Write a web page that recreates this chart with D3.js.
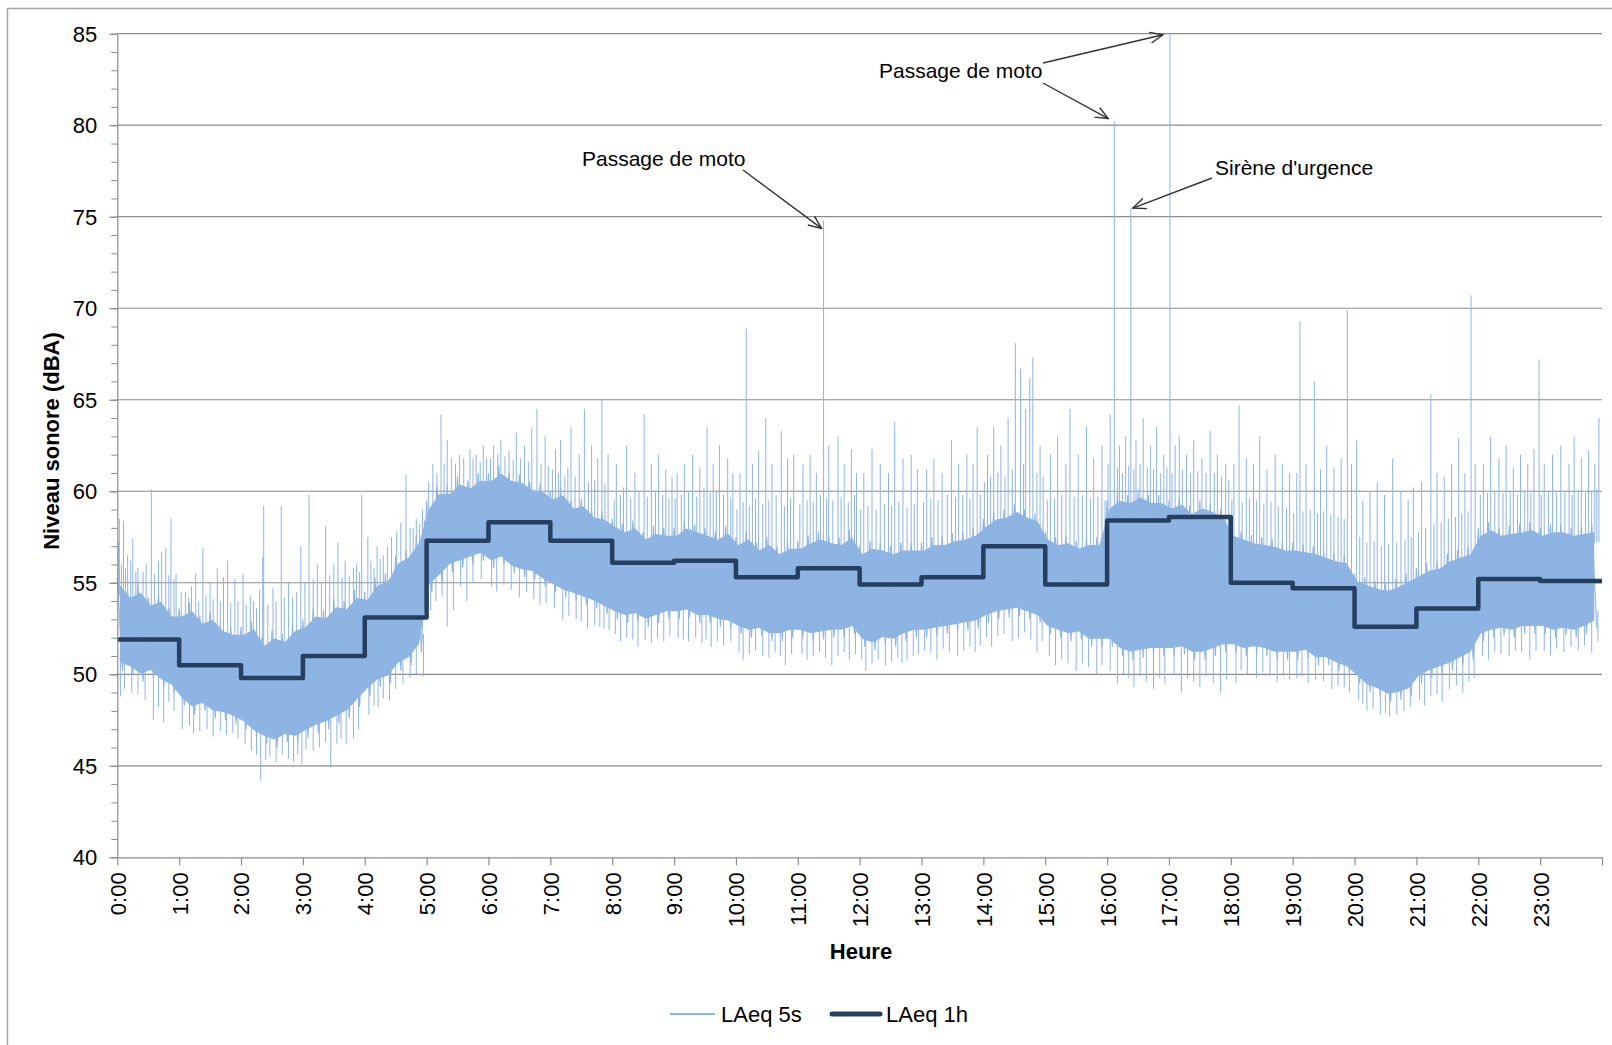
<!DOCTYPE html>
<html>
<head>
<meta charset="utf-8">
<script src="https://cdn.jsdelivr.net/npm/d3@7"></script>
<style>
  body { margin: 0; background: #fff; }
  text { font-family: "Liberation Sans", Arial, sans-serif; }
</style>
</head>
<body>
<svg id="drawing_region"></svg>
<script>
// hour labels on the x axis
const hourLabels = ["0:00","1:00","2:00","3:00","4:00","5:00","6:00","7:00","8:00","9:00","10:00","11:00",
  "12:00","13:00","14:00","15:00","16:00","17:00","18:00","19:00","20:00","21:00","22:00","23:00"];
const yTickValues = [40, 45, 50, 55, 60, 65, 70, 75, 80, 85];

// LAeq 1h, one value per hour
const laeq1h = [51.9, 50.5, 49.8, 51.0, 53.1, 57.3, 58.3, 57.3, 56.1, 56.2, 55.3, 55.8,
  54.9, 55.3, 57.0, 54.9, 58.4, 58.6, 55.0, 54.7, 52.6, 53.6, 55.2, 55.1];

// LAeq 5s : dense band, low / high per 10 minute slot (6 slots per hour)
const bandLow = [
  [50.2, 50.0, 49.6, 49.8, 49.3, 49.0],
  [48.3, 47.8, 48.0, 47.6, 47.5, 47.3],
  [47.0, 46.5, 46.2, 46.0, 46.3, 46.2],
  [46.5, 46.8, 47.0, 47.3, 47.6, 48.2],
  [48.8, 49.3, 49.5, 50.2, 50.5, 51.2],
  [54.5, 55.0, 55.6, 55.8, 56.0, 56.2],
  [55.8, 56.0, 55.5, 55.3, 55.2, 54.8],
  [54.5, 54.2, 54.0, 53.8, 53.6, 53.3],
  [53.0, 52.8, 52.9, 52.6, 52.8, 53.0],
  [53.0, 53.1, 52.8, 52.8, 52.6, 52.5],
  [52.2, 52.0, 52.1, 51.8, 51.8, 52.0],
  [52.0, 51.8, 51.9, 52.0, 52.0, 52.2],
  [51.5, 51.3, 51.6, 51.5, 51.8, 52.0],
  [52.0, 52.1, 52.2, 52.3, 52.4, 52.5],
  [52.8, 53.0, 53.1, 53.2, 53.0, 52.8],
  [52.2, 52.0, 51.8, 51.9, 51.5, 51.5],
  [51.5, 51.0, 50.8, 50.9, 51.0, 51.0],
  [51.0, 51.1, 50.8, 50.8, 51.0, 51.2],
  [51.2, 51.0, 51.1, 51.0, 50.8, 50.8],
  [50.8, 50.9, 50.5, 50.5, 50.2, 50.0],
  [49.5, 49.0, 48.8, 48.5, 48.6, 48.8],
  [49.5, 49.8, 50.0, 50.2, 50.5, 50.8],
  [51.8, 52.0, 52.1, 52.0, 52.2, 52.2],
  [52.2, 52.0, 52.1, 52.0, 52.2, 52.5]
];
const bandHigh = [
  [55.3, 54.6, 54.9, 54.2, 54.4, 53.6],
  [53.6, 53.9, 53.2, 53.4, 52.8, 52.6],
  [52.6, 52.9, 52.0, 52.4, 52.2, 52.8],
  [53.0, 53.6, 53.5, 54.1, 54.0, 54.6],
  [54.5, 55.3, 55.5, 56.5, 56.8, 57.6],
  [59.5, 60.3, 60.3, 60.8, 60.6, 61.0],
  [61.0, 61.4, 61.0, 60.9, 60.5, 60.4],
  [60.0, 60.2, 59.5, 59.6, 59.0, 58.9],
  [58.5, 58.2, 58.4, 57.8, 58.1, 58.0],
  [58.0, 58.4, 58.2, 58.0, 57.8, 58.1],
  [57.5, 57.8, 57.2, 57.5, 57.0, 57.3],
  [57.3, 57.6, 57.8, 57.6, 57.5, 57.9],
  [57.0, 57.3, 57.2, 57.0, 57.2, 57.2],
  [57.2, 57.5, 57.5, 57.7, 57.8, 58.0],
  [58.5, 58.9, 59.0, 59.3, 59.0, 58.8],
  [57.8, 57.5, 57.6, 57.3, 57.5, 57.5],
  [59.5, 59.9, 59.8, 60.1, 59.8, 59.8],
  [59.5, 59.7, 59.2, 59.5, 59.3, 59.0],
  [58.0, 57.8, 57.6, 57.5, 57.4, 57.2],
  [57.2, 57.1, 57.0, 56.8, 56.6, 56.5],
  [55.5, 55.3, 55.1, 55.0, 55.2, 55.5],
  [55.8, 56.1, 56.2, 56.6, 56.8, 57.0],
  [58.0, 58.3, 58.0, 58.1, 58.2, 58.3],
  [58.0, 58.2, 58.2, 58.0, 58.1, 58.2]
];

// LAeq 5s : isolated peaks above the band, per hour [minute, dB]
const peaks = [
  [[1,57.2],[2,58.5],[4,56.0],[6,58.4],[8,55.8],[10,56.5],[13,56.2],[15,57.4],[18,55.6],[20,55.8],[25,55.6],[28,56.0],[33,60.1],[36,55.5],[40,56.2],[43,56.7],[47,56.9],[50,55.4],[52,58.5],[55,55.2],[57,55.5]],
  [[2,54.5],[6,54.5],[9,54.2],[12,54.8],[16,55.5],[19,54.0],[23,56.9],[26,54.3],[30,55.0],[33,54.1],[37,55.8],[40,54.0],[43,55.3],[47,56.2],[50,53.9],[54,55.2],[57,54.0]],
  [[2,55.5],[5,53.8],[9,54.3],[12,54.0],[15,53.6],[18,54.6],[21,56.4],[22,59.2],[26,53.8],[31,54.7],[34,54.0],[39,59.2],[42,54.2],[46,55.0],[50,54.2],[54,54.5],[58,57.0]],
  [[2,55.0],[6,59.8],[10,55.2],[14,56.0],[18,55.0],[22,58.1],[26,55.4],[30,56.0],[34,57.2],[38,55.3],[41,56.2],[45,55.4],[49,55.8],[52,56.0],[55,55.6],[57,59.8]],
  [[3,57.5],[6,56.2],[9,55.8],[12,57.0],[15,56.3],[18,56.5],[22,57.0],[26,57.5],[31,57.8],[35,58.3],[40,60.9],[44,58.0],[47,58.0],[50,58.5],[53,58.2],[56,59.0],[58,58.4]],
  [[2,60.5],[6,61.5],[10,61.0],[14,64.2],[17,61.5],[20,62.8],[24,61.8],[28,61.5],[32,62.0],[36,61.8],[42,62.3],[45,61.8],[48,62.0],[52,61.6],[55,62.5],[58,61.8]],
  [[2,61.8],[5,62.5],[9,62.0],[12,62.8],[16,61.9],[20,62.2],[24,61.7],[27,63.2],[31,61.8],[35,62.5],[39,61.6],[42,63.5],[47,64.5],[51,61.5],[55,63.0],[58,61.4]],
  [[2,61.2],[5,62.3],[8,61.0],[10,62.8],[14,60.8],[17,61.3],[20,63.5],[24,60.8],[28,62.0],[33,64.5],[37,60.5],[40,62.5],[43,60.6],[46,61.8],[50,65.0],[53,60.4],[56,62.0]],
  [[2,59.5],[4,61.5],[8,59.8],[11,60.2],[14,62.5],[18,59.6],[22,61.0],[26,60.0],[31,64.2],[34,59.7],[38,61.5],[42,60.0],[45,62.0],[49,59.8],[52,61.2],[55,59.6],[58,60.8]],
  [[1,59.6],[3,61.0],[7,59.8],[10,61.5],[14,60.0],[18,62.0],[22,59.7],[25,61.3],[29,60.2],[32,63.5],[35,59.9],[38,61.5],[41,60.0],[44,62.5],[48,59.8],[52,61.8],[55,59.6],[57,61.0]],
  [[1,59.0],[4,61.0],[7,59.4],[10,68.9],[13,59.2],[16,61.5],[19,59.6],[22,62.2],[26,59.3],[29,64.0],[32,59.5],[35,61.5],[39,59.8],[44,63.3],[47,59.2],[50,61.8],[53,59.6],[56,62.0]],
  [[2,59.3],[5,61.5],[9,59.5],[12,62.0],[15,59.4],[18,61.0],[22,59.8],[25,74.8],[28,59.6],[30,62.5],[34,59.5],[39,63.0],[42,59.7],[45,61.5],[49,59.4],[52,62.3],[55,59.8],[57,61.0]],
  [[1,59.0],[4,61.0],[8,59.2],[12,62.3],[16,59.0],[20,61.5],[24,59.3],[28,61.0],[31,59.2],[34,63.8],[38,59.4],[42,61.8],[46,59.1],[50,62.0],[53,59.3],[56,61.2]],
  [[2,59.4],[5,61.2],[9,59.6],[12,61.8],[16,59.5],[20,61.0],[25,59.8],[29,62.8],[33,59.7],[36,61.5],[40,59.8],[44,62.0],[47,59.6],[50,61.5],[54,63.5],[57,59.8]],
  [[1,60.5],[4,62.0],[7,60.8],[10,63.5],[14,61.0],[17,62.5],[21,60.8],[24,64.0],[28,61.2],[31,68.1],[36,66.7],[39,61.5],[41,64.5],[45,66.2],[48,67.3],[52,61.0],[55,62.5],[58,60.8]],
  [[2,59.5],[5,62.0],[9,59.6],[12,63.0],[16,59.8],[20,61.5],[24,64.5],[28,59.7],[32,62.0],[36,59.8],[40,63.5],[44,59.6],[47,61.8],[51,59.7],[55,62.5],[58,59.5]],
  [[1,61.5],[3,64.2],[7,80.2],[10,61.3],[12,62.5],[15,61.0],[18,63.0],[21,61.4],[23,75.5],[26,61.2],[28,62.8],[32,61.5],[35,64.0],[39,61.3],[42,62.5],[45,61.2],[48,63.5],[52,61.0],[55,62.0],[58,61.3]],
  [[1,85.0],[3,61.0],[6,62.5],[10,63.0],[13,61.2],[17,62.0],[21,61.0],[24,62.8],[28,61.1],[32,61.8],[36,61.0],[40,63.3],[44,61.0],[47,62.0],[51,60.8],[55,61.5],[58,60.6]],
  [[1,59.5],[3,61.5],[8,64.7],[11,59.4],[15,61.8],[18,59.6],[22,61.5],[25,59.5],[28,63.0],[32,59.3],[35,61.2],[39,59.4],[43,62.0],[46,59.2],[50,61.5],[54,59.1],[57,61.0]],
  [[1,58.8],[4,61.0],[7,69.3],[10,58.9],[13,61.5],[17,59.0],[21,66.0],[24,58.8],[27,61.2],[30,58.9],[33,62.5],[37,58.7],[40,61.3],[44,58.6],[47,61.8],[50,58.5],[53,69.9],[57,61.5]],
  [[2,62.8],[5,57.5],[8,59.5],[12,57.2],[15,60.0],[19,57.3],[22,60.5],[26,57.0],[29,59.8],[33,57.1],[37,61.8],[41,57.2],[45,60.0],[49,57.3],[52,59.5],[55,57.5],[57,60.2]],
  [[2,57.8],[5,60.5],[9,58.0],[14,65.3],[17,58.2],[20,61.0],[24,58.3],[27,60.8],[31,58.5],[34,61.5],[38,58.6],[41,62.9],[44,58.8],[47,61.0],[50,58.9],[53,70.7],[57,61.5]],
  [[2,59.8],[5,61.5],[9,59.9],[12,63.0],[16,60.0],[20,61.8],[24,59.9],[27,62.5],[31,60.0],[34,61.3],[38,59.8],[41,62.0],[45,60.0],[48,61.5],[51,59.9],[54,62.3],[59,67.2]],
  [[1,59.8],[4,61.5],[8,60.0],[12,62.0],[16,59.9],[20,62.5],[24,60.0],[28,61.5],[31,59.8],[33,63.0],[37,60.0],[40,61.8],[44,59.9],[47,62.2],[50,60.0],[53,61.5],[55,60.1],[57,64.0]]
];

// LAeq 5s : isolated dips below the band, per hour [minute, dB]
const dips = [
  [[3,48.8],[7,49.2],[14,49.0],[20,48.9],[27,48.6],[35,47.5],[40,48.2],[45,47.4],[50,48.5],[55,48.0]],
  [[3,47.0],[10,47.2],[14,46.8],[20,46.9],[27,47.0],[33,46.6],[40,46.9],[46,46.7],[52,46.8],[57,46.5]],
  [[4,46.2],[10,45.8],[15,45.6],[19,44.2],[24,45.3],[28,45.5],[34,45.2],[40,45.6],[46,45.4],[51,45.2],[55,45.6],[59,45.1]],
  [[3,45.9],[10,45.8],[16,46.0],[22,46.3],[27,44.9],[33,46.2],[37,46.5],[42,46.2],[49,46.5],[54,47.0]],
  [[4,47.8],[9,48.3],[13,48.2],[18,48.7],[24,48.6],[30,49.2],[37,49.5],[44,49.8],[50,50.0],[57,49.9]],
  [[4,53.5],[9,54.0],[15,54.3],[20,52.6],[26,53.5],[33,54.8],[39,54.0],[45,55.0],[53,55.2]],
  [[3,54.8],[8,54.5],[15,54.9],[22,54.6],[30,54.2],[37,54.5],[44,54.1],[50,53.8],[56,53.9]],
  [[4,53.6],[12,53.0],[18,53.2],[25,53.0],[30,52.9],[36,52.5],[43,52.7],[48,52.6],[52,52.5],[57,52.4]],
  [[3,52.2],[8,51.8],[14,52.0],[20,51.9],[25,51.5],[32,51.9],[38,51.7],[44,52.0],[50,51.8],[56,52.1]],
  [[4,52.0],[9,51.9],[14,51.8],[21,52.0],[27,51.7],[31,51.9],[36,51.5],[42,51.8],[48,51.6],[55,51.8]],
  [[3,51.2],[7,50.8],[13,51.1],[19,51.3],[26,51.0],[32,50.9],[38,51.2],[43,51.0],[48,50.5],[54,51.1]],
  [[4,51.1],[9,50.8],[15,51.0],[21,51.2],[27,50.9],[33,50.5],[39,51.0],[45,51.2],[50,50.8],[56,51.1]],
  [[2,50.8],[6,50.2],[12,50.6],[18,50.8],[25,50.5],[31,50.7],[37,50.9],[41,50.6],[46,50.8],[52,51.0],[57,51.1]],
  [[3,51.3],[9,51.2],[15,50.8],[21,51.4],[27,51.2],[35,51.0],[41,51.3],[47,51.5],[52,51.2],[57,51.6]],
  [[3,52.0],[8,51.5],[14,52.1],[20,52.2],[28,51.8],[34,52.0],[40,52.3],[46,51.9],[52,51.2],[57,51.8]],
  [[4,51.0],[10,50.5],[16,50.8],[22,50.6],[30,50.2],[36,50.6],[42,50.4],[50,50.0],[55,50.5]],
  [[3,50.2],[10,49.5],[16,50.0],[21,49.8],[26,49.3],[32,49.9],[38,49.6],[45,49.2],[51,49.8],[56,49.5]],
  [[5,50.0],[12,49.0],[18,49.8],[24,49.6],[30,49.3],[36,49.9],[43,49.5],[50,49.0],[56,49.7]],
  [[5,49.5],[10,50.2],[16,50.0],[25,49.8],[31,50.1],[38,49.9],[45,49.6],[51,49.9],[57,49.7]],
  [[4,49.8],[9,49.9],[15,49.5],[22,49.7],[30,49.6],[38,49.2],[44,49.4],[50,49.3],[55,49.0]],
  [[4,48.6],[8,48.4],[12,48.0],[18,48.1],[25,47.8],[30,47.9],[34,47.7],[41,47.8],[48,48.0],[54,48.2]],
  [[3,48.6],[8,48.3],[14,48.8],[20,48.9],[25,48.5],[32,49.2],[39,49.4],[45,49.0],[51,49.6],[56,49.8]],
  [[4,51.0],[10,50.8],[16,51.2],[22,51.1],[30,51.0],[36,51.3],[42,51.2],[50,50.8],[56,51.3]],
  [[4,51.3],[10,51.0],[16,51.4],[23,51.2],[30,51.5],[37,51.3],[43,51.6],[50,51.2],[56,51.8]]
];

// annotated events: [hour, minute, dB]
const annotations = [
  { label: "Passage de moto", targets: [[11, 25, 74.8]] },
  { label: "Passage de moto", targets: [[17, 1, 85.0], [16, 7, 80.2]] },
  { label: "Sirène d'urgence", targets: [[16, 23, 75.5]] }
];

const seriesNames = ["LAeq 5s", "LAeq 1h"];

class NoiseChart {

  constructor( config ) {
    this.config = config;
    this.init();
  }

  init() {
    let self = this;
    const c = self.config;

    self.svg = d3.select( c.parent )
      .attr('width', c.width)
      .attr('height', c.height);

    // outer frame
    self.svg.append('rect')
      .attr('x', 7.5).attr('y', 8.5)
      .attr('width', 1700).attr('height', 1200)
      .attr('fill', 'none')
      .attr('stroke', '#a6a6a6')
      .attr('stroke-width', 1.5);

    self.x = d3.scaleLinear().domain([0, 24]).range([c.left, c.right]);
    self.y = d3.scaleLinear().domain([40, 85]).range([c.bottom, c.top]);

    const defs = self.svg.append('defs');
    defs.append('marker')
      .attr('id', 'arrow')
      .attr('viewBox', '0 0 14 14')
      .attr('refX', 13).attr('refY', 7)
      .attr('markerWidth', 14).attr('markerHeight', 14)
      .attr('markerUnits', 'userSpaceOnUse')
      .attr('orient', 'auto')
      .append('path')
      .attr('d', 'M0,1.5 L13,7 L0,12.5')
      .attr('fill', 'none')
      .attr('stroke', '#333')
      .attr('stroke-width', 1.4);
  }

  render() {
    let self = this;
    const c = self.config;
    const x = self.x, y = self.y;
    const blue = '#8eb4e3';

    // gridlines
    self.svg.append('g')
      .selectAll('line')
      .data(yTickValues.filter(d => d > 40))
      .join('line')
      .attr('x1', c.left).attr('x2', c.right)
      .attr('y1', d => y(d)).attr('y2', d => y(d))
      .attr('stroke', '#8c8c8c')
      .attr('stroke-width', 1.2);

    // LAeq 5s : dense core of the band
    const band = [];
    bandLow.forEach((row, h) => row.forEach((lo, s) => {
      band.push({ t: h + (s * 10 + 2.5) / 60, lo: lo, hi: bandHigh[h][s] });
    }));
    self.svg.append('path')
      .datum(band)
      .attr('fill', blue)
      .attr('d', d3.area().x(d => x(d.t)).y0(d => y(d.lo) - 8).y1(d => y(d.hi) + 8));

    // LAeq 5s : line swinging between band low and high
    const pts = [];
    bandHigh.forEach((row, h) => row.forEach((hi, s) => {
      pts.push({ t: h + (s * 10) / 60, v: hi });
      pts.push({ t: h + (s * 10 + 5) / 60, v: bandLow[h][s] });
    }));
    self.svg.append('path')
      .datum(pts)
      .attr('fill', 'none')
      .attr('stroke', blue)
      .attr('stroke-width', 1.1)
      .attr('d', d3.line().x(d => x(d.t)).y(d => y(d.v)));

    // LAeq 5s : single samples above / below the band
    const spikes = [];
    peaks.forEach((row, h) => row.forEach(([m, v]) =>
      spikes.push({ t: h + m / 60, base: bandHigh[h][Math.floor(m / 10)] - 1, v: v })));
    dips.forEach((row, h) => row.forEach(([m, v]) =>
      spikes.push({ t: h + m / 60, base: bandLow[h][Math.floor(m / 10)] + 1, v: v })));
    self.svg.append('g')
      .selectAll('line')
      .data(spikes)
      .join('line')
      .attr('x1', d => x(d.t)).attr('x2', d => x(d.t))
      .attr('y1', d => y(d.base)).attr('y2', d => y(d.v))
      .attr('stroke', blue)
      .attr('stroke-width', 1);

    // LAeq 1h step line
    const steps = laeq1h.map((v, h) => ({ t: h, v: v }));
    steps.push({ t: 24, v: laeq1h[laeq1h.length - 1] });
    self.svg.append('path')
      .datum(steps)
      .attr('fill', 'none')
      .attr('stroke', '#243f60')
      .attr('stroke-width', 4.5)
      .attr('stroke-linejoin', 'round')
      .attr('d', d3.line().x(d => x(d.t)).y(d => y(d.v)).curve(d3.curveStepAfter));

    // y axis
    const yMinor = self.svg.append('g')
      .attr('transform', `translate(${c.left},0)`)
      .call(d3.axisLeft(y).tickValues(d3.range(40, 86, 1)).tickSize(6).tickFormat(''));
    yMinor.select('.domain').remove();
    yMinor.selectAll('line').attr('stroke', '#8c8c8c');

    const yAxis = self.svg.append('g')
      .attr('transform', `translate(${c.left},0)`)
      .call(d3.axisLeft(y).tickValues(yTickValues).tickSize(8).tickSizeOuter(0).tickPadding(12));
    yAxis.selectAll('path, line').attr('stroke', '#8c8c8c').attr('stroke-width', 1.2);
    yAxis.selectAll('text')
      .attr('font-size', 22)
      .attr('fill', '#000')
      .attr('dy', '0.34em');

    // x axis
    const xAxis = self.svg.append('g')
      .attr('transform', `translate(0,${c.bottom})`)
      .call(d3.axisBottom(x).tickValues(d3.range(0, 25)).tickSize(8).tickSizeOuter(0)
        .tickFormat(d => hourLabels[d] || ''));
    xAxis.selectAll('path, line').attr('stroke', '#8c8c8c').attr('stroke-width', 1.2);
    xAxis.selectAll('text')
      .attr('font-size', 22)
      .attr('fill', '#000')
      .attr('transform', 'rotate(-90)')
      .attr('text-anchor', 'end')
      .attr('x', -15)
      .attr('y', 0)
      .attr('dy', '0.36em');

    // axis titles
    self.svg.append('text')
      .attr('transform', 'translate(59,441) rotate(-90)')
      .attr('text-anchor', 'middle')
      .attr('font-size', 22)
      .attr('font-weight', 'bold')
      .text('Niveau sonore (dBA)');

    self.svg.append('text')
      .attr('x', 861).attr('y', 959)
      .attr('text-anchor', 'middle')
      .attr('font-size', 22)
      .attr('font-weight', 'bold')
      .text('Heure');

    // annotations
    const labelPos = [[582, 166], [879, 78], [1215, 175]];
    const arrowFrom = [[[743, 170]], [[1043, 63], [1043, 83]], [[1212, 178]]];
    const tipShift = [[[-2, 8]], [[-7, 1], [-6, -3]], [[2, 0.5]]];
    annotations.forEach((a, i) => {
      self.svg.append('text')
        .attr('x', labelPos[i][0]).attr('y', labelPos[i][1])
        .attr('font-size', 21)
        .attr('fill', '#000')
        .text(a.label);
      a.targets.forEach(([h, m, v], j) => {
        self.svg.append('line')
          .attr('x1', arrowFrom[i][j][0]).attr('y1', arrowFrom[i][j][1])
          .attr('x2', x(h + m / 60) + tipShift[i][j][0])
          .attr('y2', y(v) + tipShift[i][j][1])
          .attr('stroke', '#333')
          .attr('stroke-width', 1.4)
          .attr('marker-end', 'url(#arrow)');
      });
    });

    // legend
    const legend = self.svg.append('g');
    const lx = [670, 832];
    const legendStyle = [{ color: blue, w: 2, len: 45 }, { color: '#243f60', w: 5, len: 48 }];
    seriesNames.forEach((name, i) => {
      legend.append('line')
        .attr('x1', lx[i]).attr('x2', lx[i] + legendStyle[i].len)
        .attr('y1', 1014).attr('y2', 1014)
        .attr('stroke', legendStyle[i].color)
        .attr('stroke-width', legendStyle[i].w)
        .attr('stroke-linecap', i === 1 ? 'round' : 'butt');
      legend.append('text')
        .attr('x', lx[i] + legendStyle[i].len + 6).attr('y', 1022)
        .attr('font-size', 22)
        .text(name);
    });
  }
}

const chart = new NoiseChart({
  parent: '#drawing_region',
  width: 1612,
  height: 1045,
  left: 117.3,
  right: 1602,
  top: 33.7,
  bottom: 857.3
});
chart.render();
</script>
</body>
</html>
